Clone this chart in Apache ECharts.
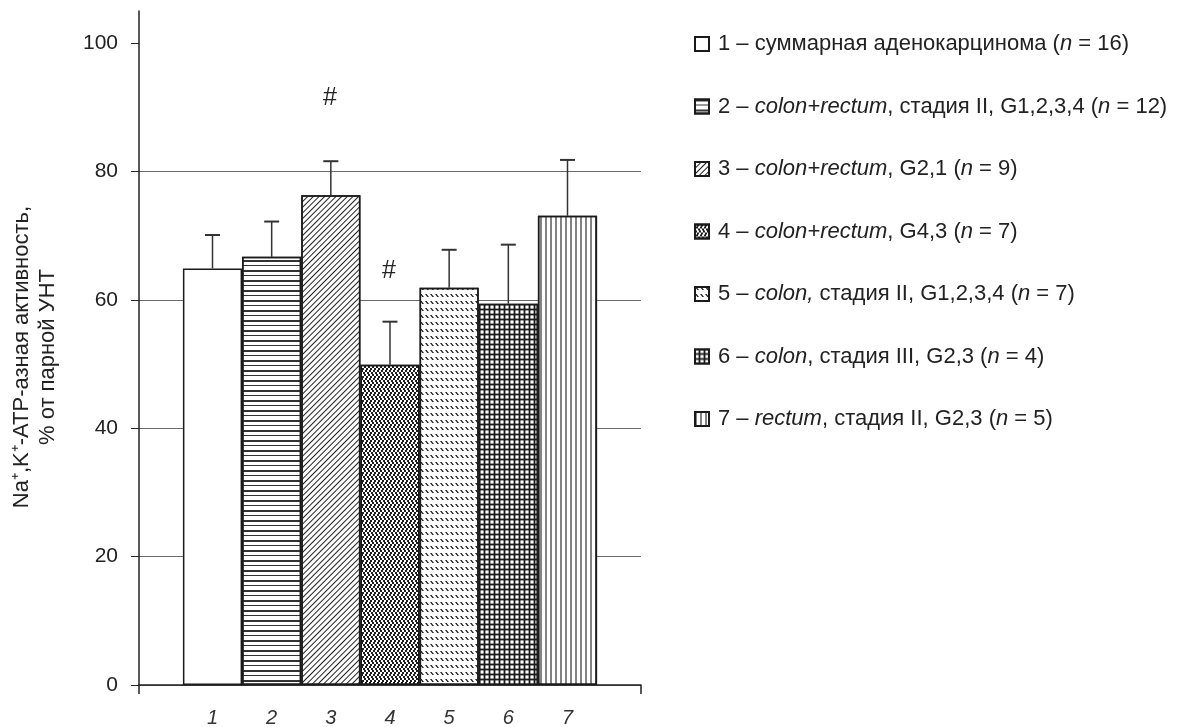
<!DOCTYPE html>
<html><head><meta charset="utf-8">
<script src="https://cdn.jsdelivr.net/npm/echarts@6/dist/echarts.min.js"></script>
<style>html,body{margin:0;padding:0;background:#fff}#chart{width:1182px;height:727px}</style>
</head><body><div id="chart"></div>
<script>
// ---- data ----
const barLabels = ['1', '2', '3', '4', '5', '6', '7'];
const groupLabels = [
  '1 – суммарная аденокарцинома ({i|n} = 16)',
  '2 – {i|colon+rectum}, стадия II, G1,2,3,4 ({i|n} = 12)',
  '3 – {i|colon+rectum}, G2,1 ({i|n} = 9)',
  '4 – {i|colon+rectum}, G4,3 ({i|n} = 7)',
  '5 – {i|colon,} стадия II, G1,2,3,4 ({i|n} = 7)',
  '6 – {i|colon}, стадия III, G2,3 ({i|n} = 4)',
  '7 – {i|rectum}, стадия II, G2,3 ({i|n} = 5)'
];
const meanValues = [64.9, 66.7, 76.3, 49.9, 61.9, 59.4, 73.1];
const errorValues = [5.2, 5.5, 5.3, 6.7, 5.9, 9.2, 8.7];
const markBars = [2, 3];
const markValues = [91.5, 64.5];
const markTexts = ['#', '#'];
const yTicks = [0, 20, 40, 60, 80, 100];
const yName = 'Na⁺,K⁺-АТР-азная активность,\n% от парной УНТ';

// ---- styles ----
const FONT = '"Liberation Sans", Arial, Helvetica, sans-serif';
const INK = '#222';
const CAT_GAP = 0.175;
const fills = ['#fff', '#fff', '#fff', '#fff', '#fff', '#1a1a1a', '#fff'];
const patterns = [
  null,
  { symbol: 'rect', symbolSize: 1, color: '#333', dashArrayX: [1, 0], dashArrayY: [2, 3, 1, 4] },
  { symbol: 'rect', symbolSize: 1, color: '#222', dashArrayX: [1, 0], dashArrayY: [1, 3], rotation: -Math.PI / 4 },
  { symbol: 'rect', symbolSize: 0.95, color: '#111',
    dashArrayX: [[2, 2], [0, 2, 2, 0], [0, 1, 2, 1], [1, 2, 1, 0]], dashArrayY: [2, 0] },
  { symbol: 'path://M0,0L1.6,0L4,3L2.4,3Z', symbolSize: 1, color: '#1a1a1a', dashArrayX: [4, 1], dashArrayY: [3, 4] },
  { symbol: 'rect', symbolSize: 0.8, color: '#fff', dashArrayX: [4, 1], dashArrayY: [4, 1] },
  { symbol: 'rect', symbolSize: 0.75, color: '#222', dashArrayX: [2, 3], dashArrayY: [1, 0] }
];

function barX(api, barIdx) {
  const c = api.coord([0, 0]);
  const band = api.size([1, 0])[0];
  const used = band * (1 - CAT_GAP);
  const w = used / barLabels.length;
  return c[0] - used / 2 + (barIdx + 0.5) * w;
}

const barSeries = barLabels.map((lab, i) => {
  const s = {
    type: 'bar',
    name: groupLabels[i],
    data: [meanValues[i]],
    barGap: '0%',
    barCategoryGap: (CAT_GAP * 100) + '%',
    itemStyle: { color: fills[i], borderColor: '#1a1a1a', borderWidth: 1.5 },
    label: {
      show: true, position: 'bottom', distance: 23, formatter: lab,
      fontStyle: 'italic', fontSize: 20, color: '#333', fontFamily: FONT
    },
    emphasis: { disabled: true },
    z: 2
  };
  if (patterns[i]) s.itemStyle.decal = patterns[i];
  return s;
});

const errSeries = {
  type: 'custom',
  name: 'err',
  data: meanValues.map((m, i) => [0, m, errorValues[i], i]),
  encode: { x: 0, y: 1 },
  renderItem: (params, api) => {
    const m = api.value(1), e = api.value(2), idx = api.value(3);
    const x = barX(api, idx);
    const yb = api.coord([0, m])[1];
    const yt = api.coord([0, m + e])[1];
    const cap = 7.5;
    return {
      type: 'group', children: [
        { type: 'line', shape: { x1: x, y1: yb, x2: x, y2: yt }, style: { stroke: '#333', lineWidth: 1.5 } },
        { type: 'line', shape: { x1: x - cap, y1: yt, x2: x + cap, y2: yt }, style: { stroke: '#333', lineWidth: 2 } }
      ]
    };
  },
  z: 3, silent: true
};

const markSeries = {
  type: 'custom',
  name: 'marks',
  data: markValues.map((v, k) => [0, v, markBars[k]]),
  encode: { x: 0, y: 1 },
  renderItem: (params, api) => {
    const x = barX(api, api.value(2));
    const y = api.coord([0, api.value(1)])[1];
    return {
      type: 'text', x: x - 1, y: y,
      style: { text: markTexts[params.dataIndex], fontSize: 25, fontFamily: FONT, fill: '#222',
               align: 'center', verticalAlign: 'middle' }
    };
  },
  z: 3, silent: true
};

const chart = echarts.init(document.getElementById('chart'), null, { renderer: 'canvas' });
chart.setOption({
  animation: false,
  backgroundColor: '#fff',
  grid: { left: 139, right: 541, top: 11, bottom: 42, containLabel: false },
  legend: {
    data: groupLabels,
    orient: 'vertical',
    left: 694, top: 31, padding: 0,
    itemWidth: 14, itemHeight: 14,
    itemGap: 36.5,
    icon: 'rect',
    selectedMode: false,
    textStyle: {
      fontSize: 22, lineHeight: 26, color: '#222', fontFamily: FONT, padding: [0, 0, 0, 4],
      rich: { i: { fontStyle: 'italic', fontSize: 22, lineHeight: 26, color: '#222', fontFamily: FONT } }
    }
  },
  xAxis: {
    type: 'category', data: [''], boundaryGap: true,
    axisLine: { lineStyle: { color: INK, width: 1.5 } },
    axisTick: { show: true, length: 9, lineStyle: { color: INK, width: 1.5 } },
    axisLabel: { show: false },
    splitLine: { show: false }
  },
  yAxis: {
    type: 'value', min: 0, max: 105, interval: 20,
    name: yName, nameLocation: 'middle', nameGap: 78, nameRotate: 90,
    nameTextStyle: { fontSize: 22, lineHeight: 26, color: '#222', fontFamily: FONT, align: 'center',
                     padding: [0, 18, 0, 0] },
    axisLine: { show: true, lineStyle: { color: INK, width: 1.5 } },
    axisTick: { show: true, length: 8, customValues: yTicks, lineStyle: { color: INK, width: 1 } },
    axisLabel: { customValues: yTicks, margin: 21, fontSize: 21, color: '#222', fontFamily: FONT },
    splitLine: { show: true, showMaxLine: false, lineStyle: { color: '#6a6a6a', width: 1 } }
  },
  series: [...barSeries, errSeries, markSeries]
});
</script></body></html>
